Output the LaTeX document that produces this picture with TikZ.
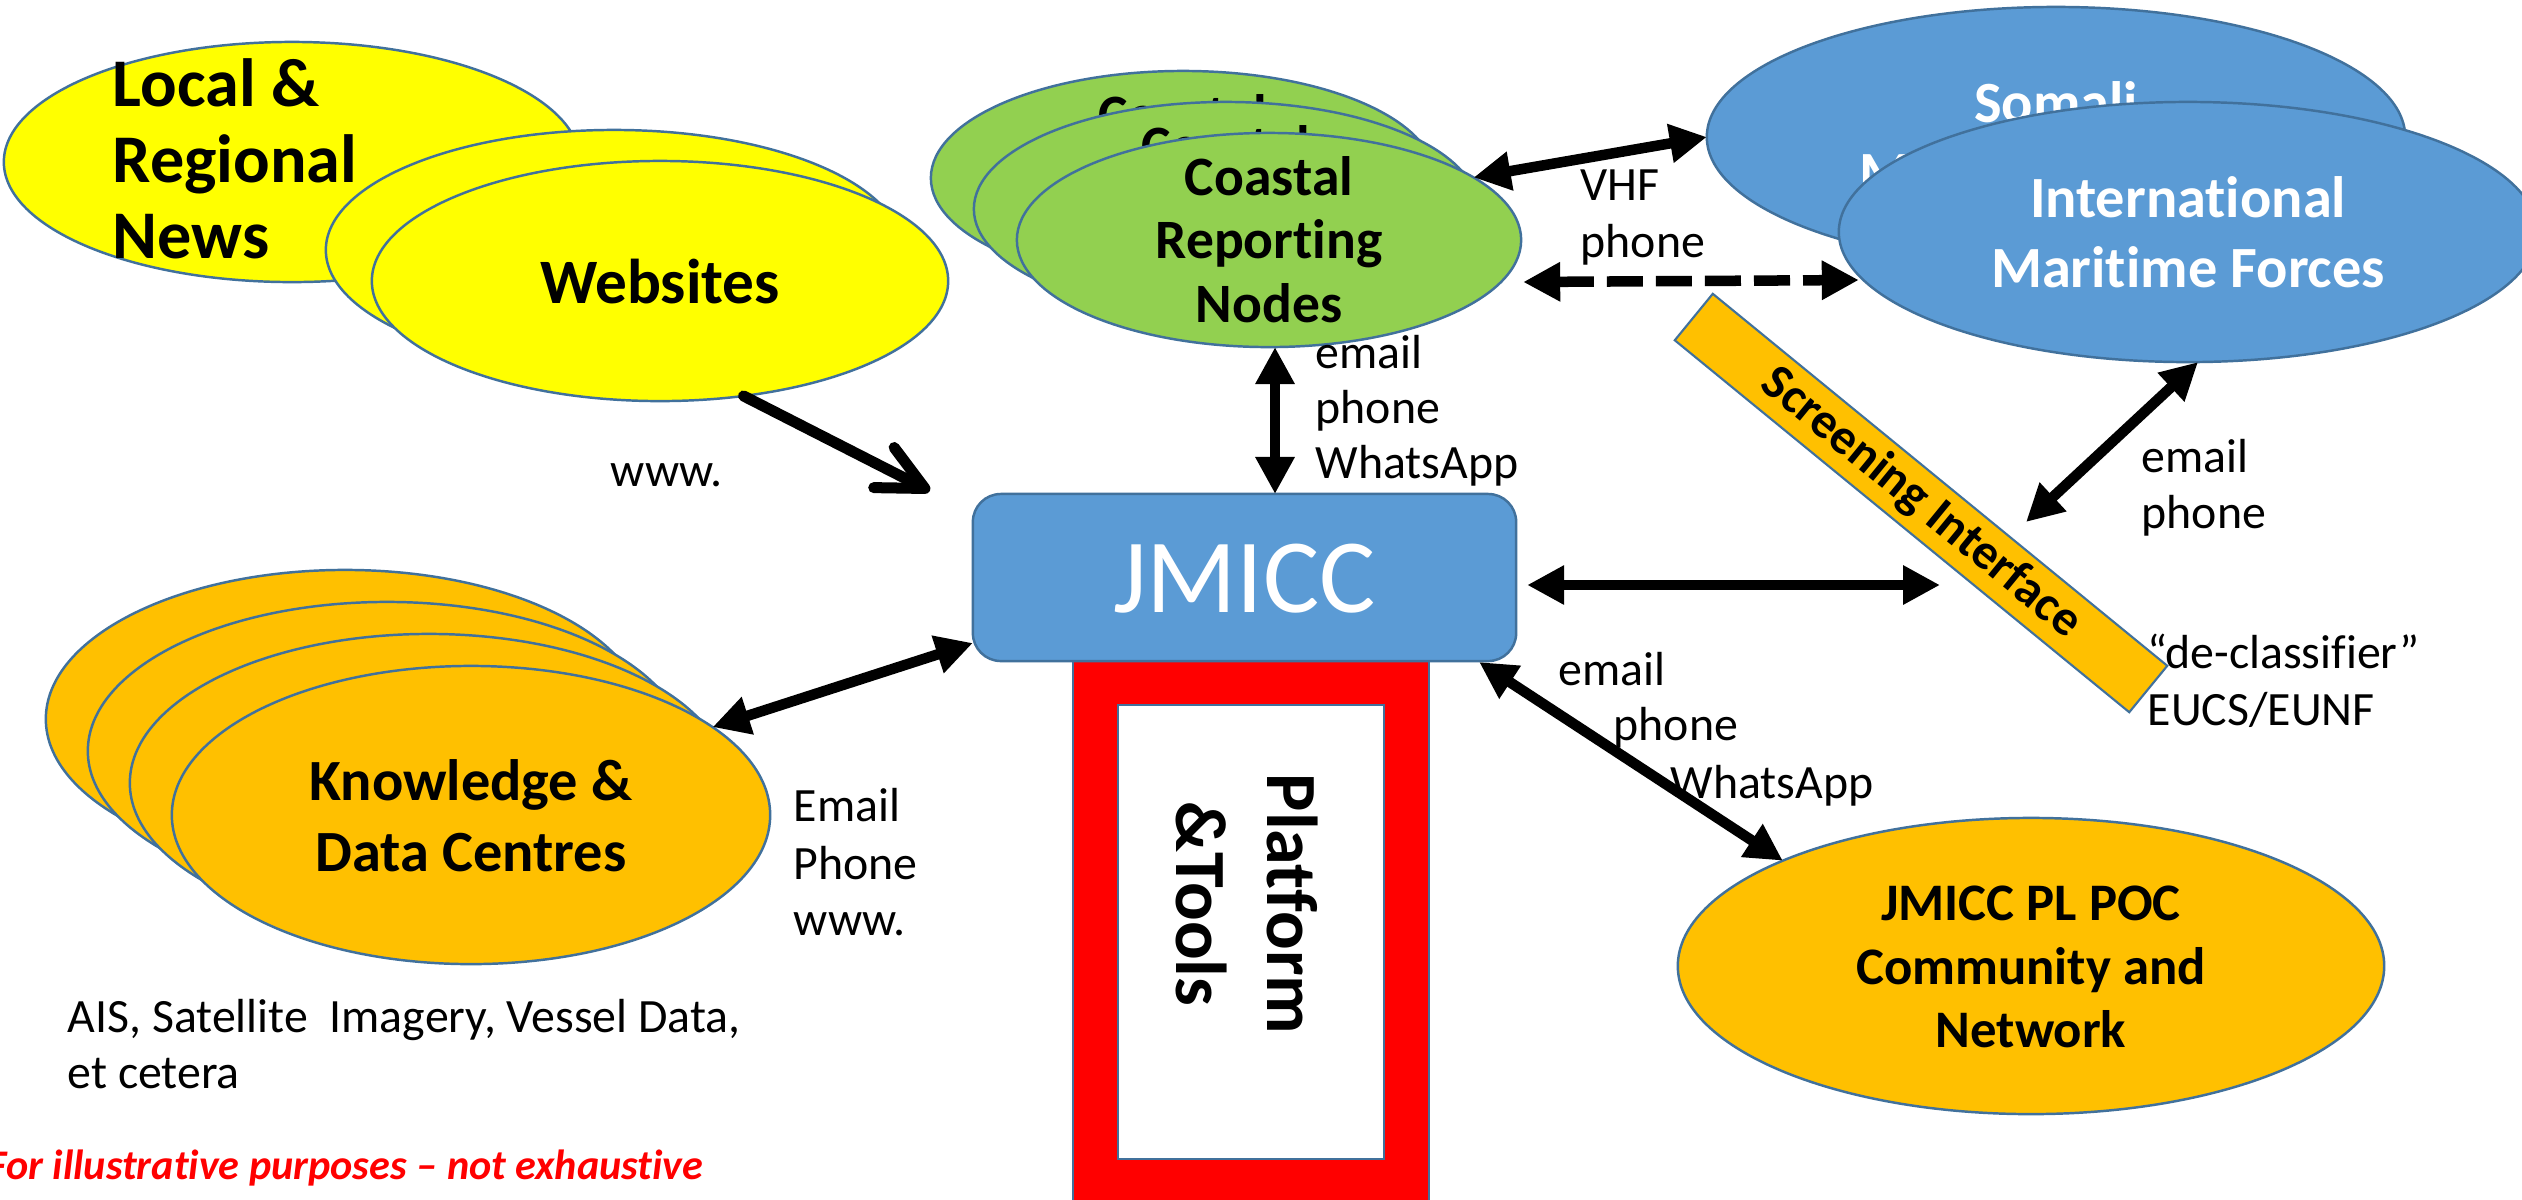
\documentclass[tikz,border=0pt]{standalone}
\usepackage{fontspec}
\setmainfont{Carlito}[Ligatures={NoCommon}]
\usetikzlibrary{shapes.geometric,arrows.meta,calc}
\definecolor{yel}{HTML}{FFFF00}
\definecolor{grn}{HTML}{92D050}
\definecolor{blu}{HTML}{5B9BD5}
\definecolor{org}{HTML}{FFC000}
\definecolor{edgeblue}{HTML}{41719C}
\definecolor{pfred}{HTML}{FF0000}
\tikzset{
  ell/.style={ellipse, draw=edgeblue, line width=0.7pt, inner sep=0pt, outer sep=0pt},
  btxt/.style={font=\bfseries, align=center, inner sep=0pt},
  lbl/.style={font=\fontsize{13.6}{16.2}\selectfont, inner sep=0pt, anchor=base west},
  dbl/.style={line width=0.105cm, {Triangle[length=0.37cm,width=0.37cm]}-{Triangle[length=0.37cm,width=0.37cm]}},
  sgl/.style={line width=0.11cm, line cap=round, -{Straight Barb[length=0.46cm,width=0.45cm,round]}},
}
\begin{document}
\begin{tikzpicture}[x=0.01cm,y=-0.01cm]
\useasboundingbox (0,0) rectangle (2522,1199);
\clip (0,0) rectangle (2522,1199);
\fill[white] (0,0) rectangle (2522,1199);

% Platform & Tools
\node[draw=edgeblue, line width=0.6pt, fill=pfred, minimum width=3.56cm, minimum height=5.6cm, inner sep=0pt, outer sep=0pt] (plat) at (1251,939) {};
\node[draw=edgeblue, line width=0.6pt, fill=white, minimum width=2.66cm, minimum height=4.54cm, inner sep=0pt, outer sep=0pt] (platin) at (1251,932) {};
\node[rotate=-90, btxt, font=\bfseries\fontsize{20.5}{25.9}\selectfont] (plattxt) at (1247,904) {Platform\\\&Tools};

% Local & Regional News
\node[ell, fill=yel, minimum width=5.76cm, minimum height=2.4cm] (lrn) at (292,162) {};
\node[btxt, align=left, anchor=west, font=\bfseries\fontsize{19.4}{21.6}\selectfont] (lrntxt) at (112,158.5) {Local \&\\Regional\\News};

% Websites
\node[ell, fill=yel, minimum width=5.76cm, minimum height=2.4cm] (web1) at (614,250) {};
\node[ell, fill=yel, minimum width=5.76cm, minimum height=2.4cm] (web2) at (660,281) {};
\node[btxt, font=\bfseries\fontsize{18}{21}\selectfont] (webtxt) at (660,281.5) {Websites};

% Coastal Reporting Nodes
\node[ell, fill=grn, minimum width=5.04cm, minimum height=2.14cm] (crn1) at (1183,178) {};
\node[btxt, font=\bfseries\fontsize{15.8}{18}\selectfont] (crn1txt) at (1183,177.5) {Coastal\\Reporting\\Nodes};
\node[ell, fill=grn, minimum width=5.04cm, minimum height=2.14cm] (crn2) at (1226,209) {};
\node[btxt, font=\bfseries\fontsize{15.8}{18}\selectfont] (crn2txt) at (1226,208.5) {Coastal\\Reporting\\Nodes};
\node[ell, fill=grn, minimum width=5.04cm, minimum height=2.14cm] (crn3) at (1269,240) {};
\node[btxt, font=\bfseries\fontsize{15.8}{18}\selectfont] (crn3txt) at (1269,239.5) {Coastal\\Reporting\\Nodes};

% Somali / International
\node[ell, fill=blu, minimum width=6.98cm, minimum height=2.6cm] (som) at (2056,137) {};
\node[btxt, text=white, font=\bfseries\fontsize{16.6}{20}\selectfont] (somtxt) at (2056,137) {Somali\\Maritime Forces};
\node[ell, fill=blu, minimum width=6.98cm, minimum height=2.6cm] (intl) at (2188,232) {};
\node[btxt, text=white, font=\bfseries\fontsize{16.6}{20}\selectfont] (intltxt) at (2188,232) {International\\Maritime Forces};

% Knowledge & Data Centres
\node[ell, fill=org, minimum width=5.98cm, minimum height=2.98cm] (kdc1) at (345,719) {};
\node[ell, fill=org, minimum width=5.98cm, minimum height=2.98cm] (kdc2) at (387,751) {};
\node[ell, fill=org, minimum width=5.98cm, minimum height=2.98cm] (kdc3) at (429,783) {};
\node[ell, fill=org, minimum width=5.98cm, minimum height=2.98cm] (kdc4) at (471,815) {};
\node[btxt, font=\bfseries\fontsize{16.6}{20.2}\selectfont] (kdctxt) at (471,815.5) {Knowledge \&\\Data Centres};

% JMICC
\node[draw=edgeblue, line width=0.7pt, fill=blu, rounded corners=0.28cm, minimum width=5.43cm, minimum height=1.67cm, inner sep=0pt, outer sep=0pt] (jmicc) at (1244.5,577.5) {};
\node[inner sep=0pt, text=white, font=\fontsize{30}{36}\selectfont] (jmicctxt) at (1244.5,579) {JMICC};

% JMICC PL POC
\node[ell, fill=org, minimum width=7.06cm, minimum height=2.96cm] (poc) at (2031,966) {};
\node[btxt, font=\bfseries\fontsize{15}{18}\selectfont] (poctxt) at (2031,967) {JMICC PL POC\\Community and\\Network};

% Screening Interface
\node[draw=edgeblue, line width=0.6pt, fill=org, rectangle, minimum width=5.87cm, minimum height=0.6cm, inner sep=0pt, outer sep=0pt, rotate=-39.3, font=\bfseries\fontsize{14.2}{17}\selectfont] (scr) at (1921,503) {Screening Interface};

% labels
\node[lbl] (www1) at (610,486) {www.};
\node[lbl] (cv1) at (1315,368) {email};
\node[lbl] (cv2) at (1315,423) {phone};
\node[lbl] (cv3) at (1315,478) {WhatsApp};
\node[lbl] (vhf1) at (1580,200) {VHF};
\node[lbl] (vhf2) at (1580,257) {phone};
\node[lbl] (ri1) at (2141,472) {email};
\node[lbl] (ri2) at (2141,528) {phone};
\node[lbl] (dc1) at (2147,668) {“de-classifier”};
\node[lbl] (dc2) at (2147,725) {EUCS/EUNF};
\node[lbl] (kd1) at (793,821) {Email};
\node[lbl] (kd2) at (793,879) {Phone};
\node[lbl] (kd3) at (793,935) {www.};
\node[lbl] (ais1) at (67,1032) {AIS, Satellite~ Imagery, Vessel Data,};
\node[lbl] (ais2) at (67,1088) {et cetera};
\node[lbl] (lo1) at (1558,685) {email};
\node[lbl] (lo2) at (1613,740) {phone};
\node[lbl] (lo3) at (1670,798) {WhatsApp};
\node[inner sep=0pt, anchor=base east, text=pfred, font=\bfseries\itshape\fontsize{12}{14}\selectfont] (note) at (704,1179) {For illustrative purposes -- not exhaustive};

% connectors
\coordinate (wtip) at ($(jmicc.north west)+(-43,-3)$);
\draw[sgl] (web2.-54.4) -- (wtip);
\draw[dbl] (kdc4.20.3) -- ($(jmicc.west)+(0,65.5)$);
\draw[dbl] ($(crn3.south)+(6,0)$) -- ($(jmicc.north)+(30.5,0)$);
\draw[dbl] (crn3.17) -- (som.west);
\draw[dbl, dash pattern=on 0.36cm off 0.13cm] ($(crn3.east)+(2,42)$) -- ($(intl.west)+(20,48)$);
\draw[dbl] ($(jmicc.east)+(11,7.5)$) -- ($(scr.center)+(19,82)$);
\draw[dbl] ($(scr.center)+(105,19)$) -- ($(intl.south)+(10,0)$);
\draw[dbl] ($(jmicc.south east)+(-37,1)$) -- (poc.157.5);
\end{tikzpicture}
\end{document}
